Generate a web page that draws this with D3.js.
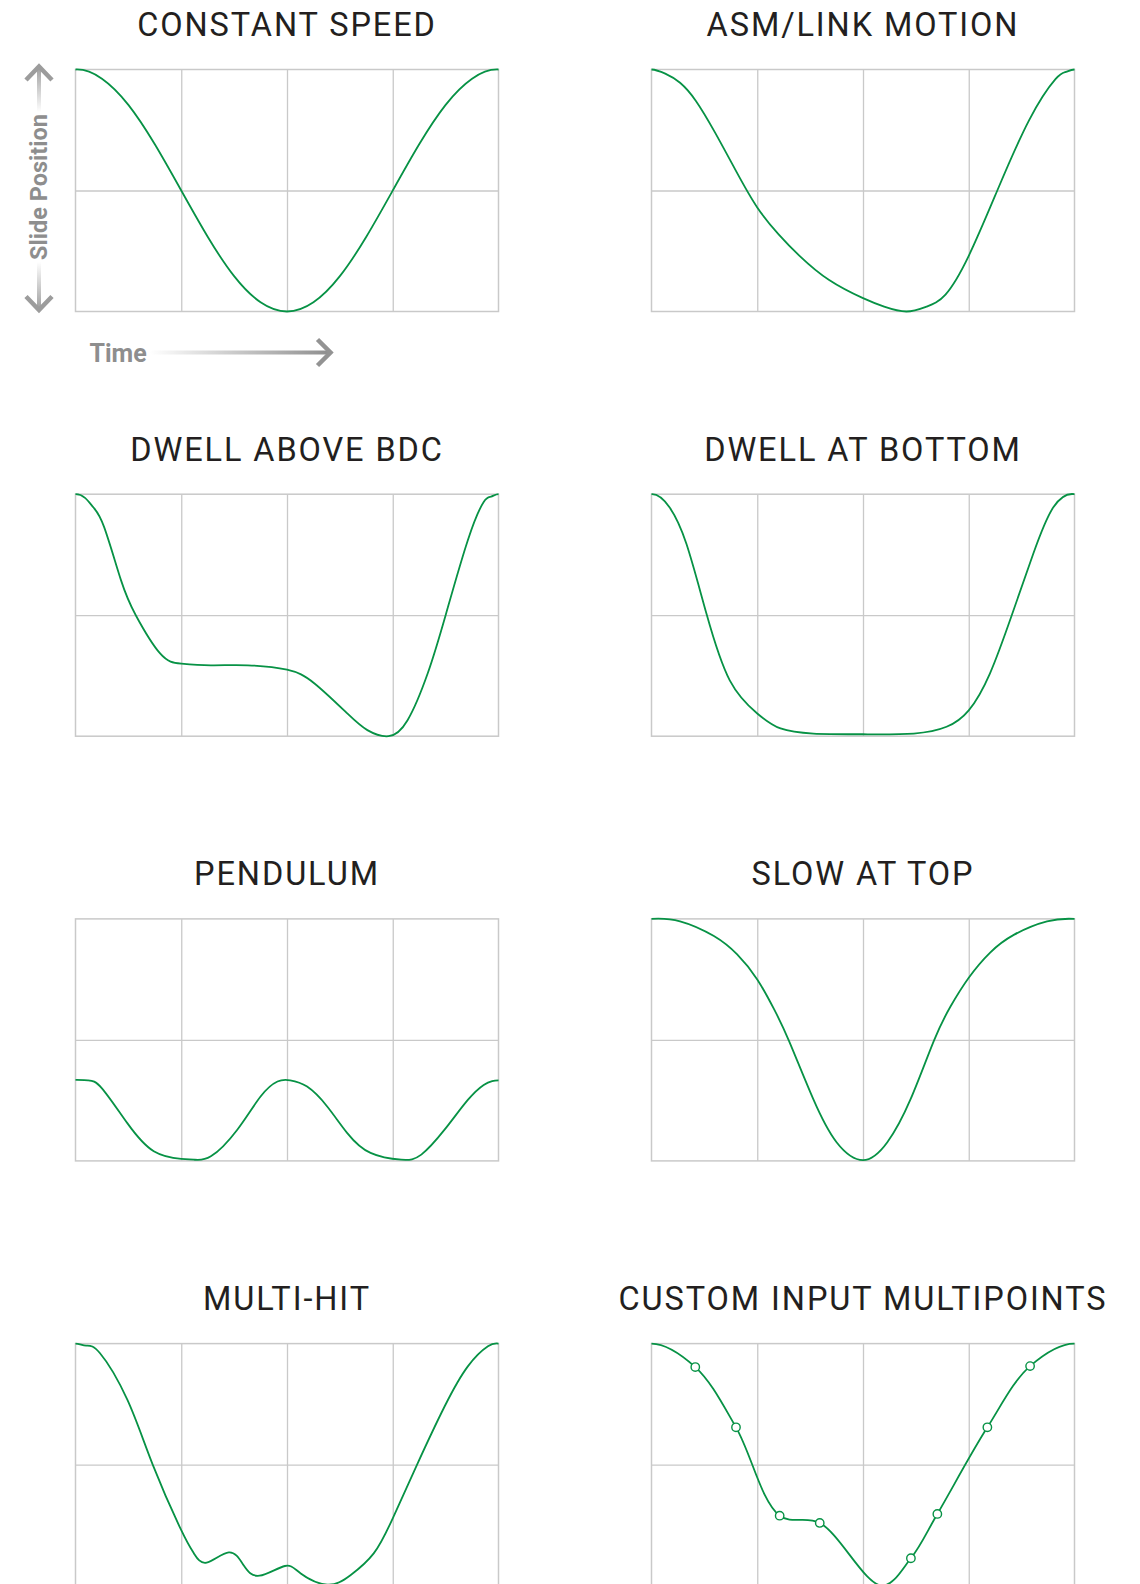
<!DOCTYPE html>
<html>
<head>
<meta charset="utf-8">
<script src="https://cdn.jsdelivr.net/npm/d3@7"></script>
<style>
  html, body { margin: 0; padding: 0; background: #ffffff; }
  svg { display: block; }
</style>
</head>
<body>
<div id="chart"></div>
<script>
// ---------- DATA (x = quarter of cycle 0..4, y = slide position 0 bottom .. 1 top) ----------
const titles = ["CONSTANT SPEED", "ASM/LINK MOTION", "DWELL ABOVE BDC", "DWELL AT BOTTOM",
                "PENDULUM", "SLOW AT TOP", "MULTI-HIT", "CUSTOM INPUT MULTIPOINTS"];

const constantSpeed = [[0,1],[0.25,0.962],[0.5,0.854],[0.75,0.691],[1,0.5],[1.25,0.309],[1.5,0.146],[1.75,0.038],[2,0],[2.25,0.038],[2.5,0.146],[2.75,0.309],[3,0.5],[3.25,0.691],[3.5,0.854],[3.75,0.962],[4,1]];
const asmLink = [[0,1],[0.13,0.983],[0.27,0.945],[0.42,0.87],[0.6,0.74],[0.8,0.58],[1,0.43],[1.2,0.32],[1.4,0.23],[1.68,0.13],[2,0.055],[2.2,0.02],[2.41,0],[2.6,0.02],[2.78,0.07],[3,0.23],[3.27,0.5],[3.57,0.79],[3.82,0.96],[3.92,0.99],[4,1]];
const dwellAboveBdc = [[0,1],[0.09,0.985],[0.17,0.945],[0.27,0.865],[0.43,0.645],[0.57,0.5],[0.8,0.342],[1,0.3],[1.28,0.293],[1.63,0.293],[2,0.275],[2.26,0.218],[2.57,0.094],[2.76,0.025],[2.96,0],[3.14,0.066],[3.33,0.259],[3.5,0.5],[3.71,0.81],[3.86,0.968],[3.93,0.99],[4,1]];
const dwellAtBottom = [[0,1],[0.17,0.946],[0.33,0.795],[0.52,0.506],[0.74,0.231],[1,0.094],[1.22,0.032],[1.53,0.011],[2,0.008],[2.48,0.011],[2.79,0.039],[3,0.107],[3.2,0.259],[3.41,0.504],[3.61,0.754],[3.8,0.946],[4,1]];
const pendulum = [[0,0.335],[0.12,0.333],[0.25,0.3],[0.49,0.156],[0.74,0.04],[1,0.008],[1.12,0.005],[1.28,0.019],[1.53,0.129],[1.75,0.266],[1.91,0.328],[2.03,0.333],[2.19,0.307],[2.38,0.225],[2.57,0.115],[2.79,0.033],[3.08,0.005],[3.27,0.026],[3.49,0.129],[3.71,0.252],[3.86,0.314],[3.94,0.33],[4,0.333]];
const slowAtTop = [[0,1],[0.27,0.99],[0.59,0.929],[0.81,0.853],[1,0.75],[1.16,0.626],[1.3,0.496],[1.53,0.255],[1.75,0.077],[2,0.003],[2.23,0.077],[2.45,0.255],[2.67,0.496],[2.83,0.64],[3,0.757],[3.2,0.86],[3.43,0.935],[3.74,0.99],[4,1]];
const multiHit = [[0,1],[0.1,0.992],[0.23,0.961],[0.49,0.768],[0.73,0.5],[1,0.229],[1.12,0.133],[1.24,0.095],[1.45,0.137],[1.59,0.084],[1.74,0.041],[1.98,0.081],[2.13,0.05],[2.38,0.004],[2.6,0.043],[2.82,0.133],[3,0.278],[3.23,0.5],[3.49,0.74],[3.71,0.906],[3.9,0.989],[4,1]];
const customInput = [[0,1],[0.414,0.903],[0.799,0.654],[1.212,0.289],[1.591,0.259],[2.18,0.0],[2.453,0.113],[2.703,0.296],[3.176,0.654],[3.58,0.907],[4,1]];
const customMarkers = [[0.414,0.903],[0.799,0.654],[1.212,0.289],[1.591,0.259],[2.453,0.113],[2.703,0.296],[3.176,0.654],[3.58,0.907]];

const gridXTicks = [1, 2, 3];
const gridYTicks = [0.5];
const axisLabelY = "Slide Position";
const axisLabelX = "Time";

const series = [constantSpeed, asmLink, dwellAboveBdc, dwellAtBottom, pendulum, slowAtTop, multiHit, customInput];

// ---------- LAYOUT ----------
const W = 1140, H = 1584;
const colX = [75.5, 651.5];
const rowTop0 = 69.5, rowStep = 424.7;
const pw = 423, ph = 242;
const green = "#079245";
const gridColor = "#c9c9c9";
const period = 4;

const svg = d3.select("#chart").append("svg")
  .attr("width", W).attr("height", H)
  .attr("viewBox", `0 0 ${W} ${H}`);

const defs = svg.append("defs");
function grad(id, x1, y1, x2, y2, stops) {
  const g = defs.append("linearGradient").attr("id", id)
    .attr("gradientUnits", "userSpaceOnUse")
    .attr("x1", x1).attr("y1", y1).attr("x2", x2).attr("y2", y2);
  stops.forEach(s => g.append("stop").attr("offset", s[0]).attr("stop-color", s[1]));
}
grad("gUp", 0, 65, 0, 112, [[0, "#9a9a9a"], [1, "#ffffff"]]);
grad("gDown", 0, 262, 0, 311, [[0, "#ffffff"], [1, "#9a9a9a"]]);
grad("gRight", 150, 0, 330, 0, [[0, "#ffffff"], [1, "#8e8e8e"]]);
defs.append("clipPath").attr("id", "plotClip")
  .append("rect").attr("x", 0).attr("y", -10).attr("width", pw).attr("height", ph + 20);

const x = d3.scaleLinear().domain([0, 4]).range([0, pw]);
const y = d3.scaleLinear().domain([0, 1]).range([ph, 0]);
const smoothLine = d3.line().x(d => x(d[0])).y(d => y(d[1])).curve(d3.curveNatural);
const pointLine = d3.line().x(d => x(d[0])).y(d => y(d[1])).curve(d3.curveCatmullRom.alpha(0.5));

// the press cycle repeats: continue the curve one reading past each end (then clip)
function periodic(d) {
  const n = d.length;
  return [[d[n - 2][0] - period, d[n - 2][1]], ...d, [d[1][0] + period, d[1][1]]];
}

series.forEach((data, i) => {
  const col = i % 2, row = Math.floor(i / 2);
  const gx = colX[col], gy = rowTop0 + row * rowStep;
  const g = svg.append("g").attr("transform", `translate(${gx},${gy})`);

  g.append("text")
    .attr("x", pw / 2).attr("y", -33.5)
    .attr("text-anchor", "middle")
    .attr("font-family", "Roboto, 'Noto Sans', sans-serif")
    .attr("font-weight", 400)
    .attr("font-size", 32.5)
    .attr("letter-spacing", 1.9)
    .attr("fill", "#231f20")
    .text(titles[i]);

  const gxAxis = g.append("g")
    .call(d3.axisBottom(x).tickValues(gridXTicks).tickSize(ph).tickFormat(""));
  gxAxis.select(".domain").remove();
  gxAxis.selectAll(".tick line").attr("stroke", gridColor).attr("stroke-width", 1.3);

  const gyAxis = g.append("g")
    .call(d3.axisLeft(y).tickValues(gridYTicks).tickSize(-pw).tickFormat(""));
  gyAxis.select(".domain").remove();
  gyAxis.selectAll(".tick line").attr("stroke", gridColor).attr("stroke-width", 1.3);

  g.append("rect")
    .attr("x", x(0)).attr("y", y(1))
    .attr("width", x(4) - x(0)).attr("height", y(0) - y(1))
    .attr("fill", "none").attr("stroke", gridColor).attr("stroke-width", 1.5);

  g.append("path").datum(periodic(data))
    .attr("d", i === 7 ? pointLine : smoothLine)
    .attr("clip-path", "url(#plotClip)")
    .attr("fill", "none")
    .attr("stroke", green)
    .attr("stroke-width", 1.8);

  if (i === 7) {
    g.selectAll("circle.m").data(customMarkers).enter().append("circle")
      .attr("class", "m")
      .attr("cx", d => x(d[0])).attr("cy", d => y(d[1]))
      .attr("r", 4.2)
      .attr("fill", "#ffffff").attr("stroke", green).attr("stroke-width", 1.4);
  }
});

// ---------- axis annotations ----------
const ann = svg.append("g");
ann.append("line").attr("x1", 39).attr("x2", 39).attr("y1", 66).attr("y2", 112)
  .attr("stroke", "url(#gUp)").attr("stroke-width", 4);
ann.append("path").attr("d", "M26,80 L39,66.5 L52,80")
  .attr("fill", "none").attr("stroke", "#9c9c9c").attr("stroke-width", 4.5);
ann.append("line").attr("x1", 39).attr("x2", 39).attr("y1", 262).attr("y2", 310)
  .attr("stroke", "url(#gDown)").attr("stroke-width", 4);
ann.append("path").attr("d", "M26,296.5 L39,310 L52,296.5")
  .attr("fill", "none").attr("stroke", "#9c9c9c").attr("stroke-width", 4.5);
ann.append("text")
  .attr("transform", "translate(47,187) rotate(-90)")
  .attr("text-anchor", "middle")
  .attr("font-family", "Roboto, 'Noto Sans', sans-serif")
  .attr("font-weight", 700)
  .attr("font-size", 23.5)
  .attr("fill", "#8e8e8e")
  .text(axisLabelY);

ann.append("line").attr("x1", 150).attr("x2", 330).attr("y1", 352.5).attr("y2", 352.5)
  .attr("stroke", "url(#gRight)").attr("stroke-width", 4);
ann.append("path").attr("d", "M317.5,339.5 L330.5,352.5 L317.5,365.5")
  .attr("fill", "none").attr("stroke", "#939393").attr("stroke-width", 4.5);
ann.append("text")
  .attr("x", 89.5).attr("y", 361.5)
  .attr("font-family", "Roboto, 'Noto Sans', sans-serif")
  .attr("font-weight", 700)
  .attr("font-size", 25)
  .attr("fill", "#8e8e8e")
  .text(axisLabelX);
</script>
</body>
</html>
